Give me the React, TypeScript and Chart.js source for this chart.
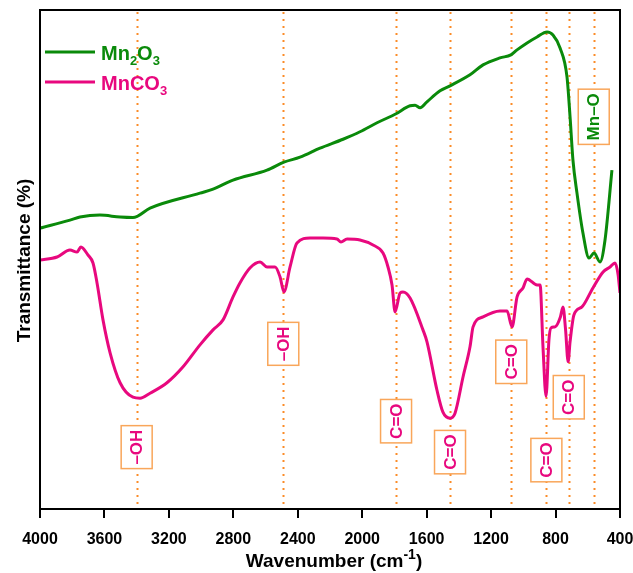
import React, { useEffect, useRef } from "react";
import { Chart, registerables } from "chart.js";

Chart.register(...registerables);

// Wavenumber (cm-1) and relative transmittance (arb. %)
const mn2o3Wn = [4000, 3814, 3752, 3628, 3503, 3423, 3317, 3007, 2926, 2802, 2591, 2486, 2386, 2262, 2119, 2014, 1908, 1790, 1703, 1672, 1641, 1598, 1517, 1455, 1331, 1250, 1145, 1077, 1039, 977, 915, 853, 816, 772, 729, 710, 692, 667, 630, 592, 561, 524, 493, 450];
const mn2o3T = [56.3, 57.9, 58.5, 58.9, 58.5, 58.4, 60.3, 63.3, 64.1, 65.9, 67.9, 69.5, 70.5, 72.3, 74.1, 75.6, 77.4, 79.2, 80.8, 80.9, 80.4, 81.6, 83.8, 84.8, 87.0, 89.0, 90.4, 91.0, 92.0, 93.4, 94.6, 95.6, 95.0, 92.4, 86.6, 78.6, 69.9, 63.3, 55.3, 50.3, 51.3, 49.5, 53.9, 67.9];

const mnco3Wn = [4000, 3894, 3814, 3770, 3746, 3702, 3671, 3646, 3609, 3565, 3503, 3423, 3379, 3317, 3212, 3112, 3007, 2926, 2864, 2802, 2759, 2697, 2634, 2591, 2541, 2510, 2486, 2448, 2405, 2324, 2243, 2157, 2132, 2094, 2014, 1933, 1871, 1840, 1815, 1796, 1765, 1747, 1703, 1623, 1598, 1536, 1499, 1455, 1424, 1374, 1331, 1312, 1250, 1145, 1101, 1070, 1039, 1002, 977, 915, 896, 878, 859, 841, 828, 803, 770, 754, 738, 722, 710, 686, 636, 568, 505, 462, 431, 412, 400];
const mnco3T = [49.9, 50.5, 51.9, 51.5, 52.5, 50.9, 49.3, 45.3, 37.9, 31.3, 25.3, 22.4, 22.2, 23.2, 25.3, 28.5, 32.9, 35.9, 37.9, 42.5, 45.3, 48.3, 49.5, 48.5, 48.5, 46.5, 43.5, 48.5, 53.3, 54.3, 54.3, 54.1, 53.5, 54.1, 53.9, 52.9, 51.3, 48.5, 44.9, 39.5, 43.3, 43.5, 42.3, 35.9, 33.5, 23.8, 19.4, 18.2, 19.2, 26.5, 32.5, 36.5, 38.5, 39.7, 39.7, 36.5, 42.5, 44.3, 46.1, 44.9, 44.9, 32.5, 22.6, 33.9, 36.3, 36.5, 38.5, 40.5, 36.0, 29.5, 33.5, 38.9, 40.5, 44.3, 47.5, 48.5, 49.3, 47.0, 43.3];

// Assigned band positions, labels and label heights (data units)
const bandWn = [3400, 2490, 1790, 1455, 1075, 857, 718, 563];
const bandLabel = ["–OH", "–OH", "C=O", "C=O", "C=O", "C=O", "C=O", "Mn–O"];
const bandLabelY = [12.4, 33.1, 17.6, 11.4, 29.5, 9.8, 22.4, 78.6];
const bandColor = ["mn", "mn", "mn", "mn", "mn", "mn", "mn", "ox"];

const xTicks = [4000, 3600, 3200, 2800, 2400, 2000, 1600, 1200, 800, 400];

const GREEN = "#0a8a0a";
const PINK = "#e8087e";
const ORANGE = "#fb8c28";
const BOX = "#f9a65a";
const FONT = "'Liberation Sans', Arial, Helvetica, sans-serif";

function drawSubText(ctx: CanvasRenderingContext2D, parts: [string, boolean][], x: number, y: number, size: number, color: string) {
  let cx = x;
  ctx.fillStyle = color;
  ctx.textBaseline = "alphabetic";
  ctx.textAlign = "left";
  for (const [t, sub] of parts) {
    ctx.font = `bold ${sub ? Math.round(size * 0.65) : size}px ${FONT}`;
    ctx.fillText(t, cx, sub ? y + size * 0.25 : y);
    cx += ctx.measureText(t).width;
  }
}

const overlay = {
  id: "overlay",
  beforeDatasetsDraw(chart: any) {
    const { ctx, chartArea, scales } = chart;
    ctx.save();
    ctx.strokeStyle = ORANGE;
    ctx.lineWidth = 2;
    ctx.setLineDash([2, 5]);
    for (const wn of bandWn) {
      const x = Math.round(scales.x.getPixelForValue(wn)) + 0.5;
      ctx.beginPath();
      ctx.moveTo(x, chartArea.top + 2);
      ctx.lineTo(x, chartArea.bottom);
      ctx.stroke();
    }
    ctx.restore();
  },
  afterDatasetsDraw(chart: any) {
    const { ctx, chartArea, scales } = chart;
    ctx.save();
    // band labels
    for (let i = 0; i < bandWn.length; i++) {
      const x = scales.x.getPixelForValue(bandWn[i]);
      const y = scales.y.getPixelForValue(bandLabelY[i]);
      ctx.font = `bold 17px ${FONT}`;
      const w = ctx.measureText(bandLabel[i]).width;
      const bh = w + 8;
      const bw = 31;
      ctx.fillStyle = "#fff";
      ctx.fillRect(x - bw / 2, y - bh / 2, bw, bh);
      ctx.strokeStyle = BOX;
      ctx.lineWidth = 1.5;
      ctx.setLineDash([]);
      ctx.strokeRect(x - bw / 2, y - bh / 2, bw, bh);
      ctx.save();
      ctx.translate(x, y);
      ctx.rotate(-Math.PI / 2);
      ctx.fillStyle = bandColor[i] === "ox" ? GREEN : PINK;
      ctx.textAlign = "center";
      ctx.textBaseline = "middle";
      ctx.fillText(bandLabel[i], 0, 1);
      ctx.restore();
    }
    // frame
    ctx.strokeStyle = "#000";
    ctx.lineWidth = 2;
    ctx.strokeRect(chartArea.left, chartArea.top, chartArea.right - chartArea.left, chartArea.bottom - chartArea.top);
    // legend
    const lx = chartArea.left + 5;
    const rows: [string, [string, boolean][], number][] = [
      [GREEN, [["Mn", false], ["2", true], ["O", false], ["3", true]], 52],
      [PINK, [["MnCO", false], ["3", true]], 82],
    ];
    for (const [col, parts, ly] of rows) {
      ctx.strokeStyle = col;
      ctx.lineWidth = 3;
      ctx.beginPath();
      ctx.moveTo(lx, ly);
      ctx.lineTo(lx + 50, ly);
      ctx.stroke();
      drawSubText(ctx, parts, lx + 56, ly + 7.5, 20, col);
    }
    // axis titles
    ctx.fillStyle = "#000";
    ctx.font = `bold 19px ${FONT}`;
    const t1 = "Wavenumber (cm";
    const t2 = "-1";
    const t3 = ")";
    const w1 = ctx.measureText(t1).width;
    const w3 = ctx.measureText(t3).width;
    ctx.font = `bold 14px ${FONT}`;
    const w2 = ctx.measureText(t2).width;
    const total = w1 + w2 + w3;
    let sx = (chartArea.left + chartArea.right) / 2 + 4 - total / 2;
    const by = 567;
    ctx.textAlign = "left";
    ctx.textBaseline = "alphabetic";
    ctx.font = `bold 19px ${FONT}`;
    ctx.fillText(t1, sx, by);
    sx += w1;
    ctx.font = `bold 14px ${FONT}`;
    ctx.fillText(t2, sx, by - 8);
    sx += w2;
    ctx.font = `bold 19px ${FONT}`;
    ctx.fillText(t3, sx, by);

    ctx.save();
    ctx.translate(30, (chartArea.top + chartArea.bottom) / 2 + 1);
    ctx.rotate(-Math.PI / 2);
    ctx.textAlign = "center";
    ctx.textBaseline = "alphabetic";
    ctx.font = `bold 19px ${FONT}`;
    ctx.fillText("Transmittance (%)", 0, 0);
    ctx.restore();
    ctx.restore();
  },
};

export default function App() {
  const ref = useRef<HTMLCanvasElement | null>(null);
  useEffect(() => {
    if (!ref.current) return;
    const chart = new Chart(ref.current, {
      type: "line",
      data: {
        datasets: [
          {
            label: "Mn2O3",
            data: mn2o3Wn.map((x, i) => ({ x, y: mn2o3T[i] })),
            borderColor: GREEN,
            borderWidth: 3,
            pointRadius: 0,
            cubicInterpolationMode: "monotone",
            fill: false,
          },
          {
            label: "MnCO3",
            data: mnco3Wn.map((x, i) => ({ x, y: mnco3T[i] })),
            borderColor: PINK,
            borderWidth: 3,
            pointRadius: 0,
            cubicInterpolationMode: "monotone",
            fill: false,
          },
        ],
      },
      options: {
        animation: false,
        responsive: true,
        maintainAspectRatio: false,
        layout: { padding: { left: 0, top: 10, right: 13, bottom: 0 } },
        plugins: { legend: { display: false }, tooltip: { enabled: false } },
        scales: {
          x: {
            type: "linear",
            reverse: true,
            min: 400,
            max: 4000,
            afterBuildTicks: (s: any) => {
              s.ticks = xTicks.map((v) => ({ value: v }));
            },
            afterFit: (s: any) => {
              s.height = 64;
              s.paddingLeft = 0;
              s.paddingRight = 0;
            },
            ticks: {
              color: "#000",
              font: { family: FONT, weight: "bold", size: 16 },
              padding: 12,
              maxRotation: 0,
              autoSkip: false,
              callback: (v: any) => String(v),
            },
            grid: { drawOnChartArea: false, drawTicks: true, tickLength: 9, color: "#000", lineWidth: 2 },
            border: { color: "#000", width: 2 },
          },
          y: {
            min: 0,
            max: 100,
            afterFit: (s: any) => {
              s.width = 40;
            },
            ticks: { display: false },
            grid: { display: false },
            border: { color: "#000", width: 2 },
          },
        },
      },
      plugins: [overlay],
    } as any);
    return () => chart.destroy();
  }, []);
  return (
    <div style={{ position: "absolute", left: 0, top: 0, width: 633, height: 573, background: "#fff" }}>
      <canvas ref={ref} />
    </div>
  );
}
